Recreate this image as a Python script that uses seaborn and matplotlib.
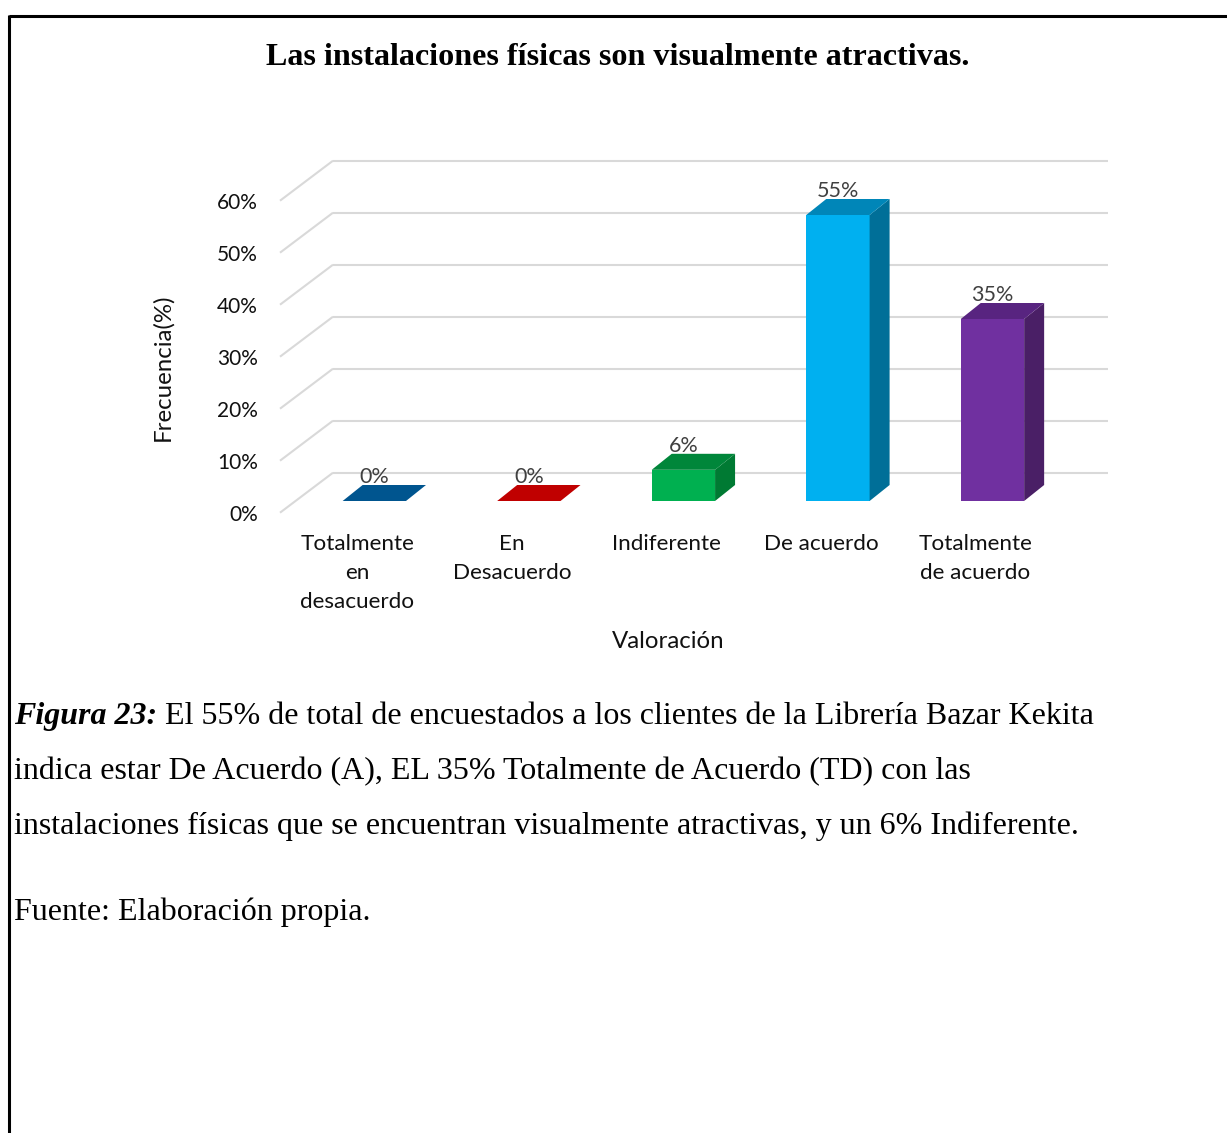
import numpy as np
import pandas as pd
import seaborn as sns
import matplotlib
matplotlib.use("Agg")
import matplotlib.pyplot as plt
from matplotlib.patches import Polygon
from matplotlib.lines import Line2D

# ---- data ----
categorias = ["Totalmente en desacuerdo", "En Desacuerdo", "Indiferente",
              "De acuerdo", "Totalmente de acuerdo"]
etiquetas_x = ["Totalmente\nen\ndesacuerdo", "En\nDesacuerdo", "Indiferente",
               "De acuerdo", "Totalmente\nde acuerdo"]
porcentajes = [0, 0, 6, 55, 35]
ticks_y = [0, 10, 20, 30, 40, 50, 60]

color_frente = ["#00558F", "#C00000", "#00B050", "#00B0F0", "#7030A0"]
color_lado = ["#003F6B", "#8F0000", "#007A33", "#006F98", "#4A1F66"]
color_techo = ["#00558F", "#C00000", "#00863A", "#0086B8", "#582480"]

titulo = "Las instalaciones físicas son visualmente atractivas."
texto_figura = "Figura 23:"
texto_lineas = [
    " El 55% de total de encuestados a los clientes de la Librería Bazar Kekita",
    "indica estar De Acuerdo (A), EL 35% Totalmente de Acuerdo (TD) con las",
    "instalaciones físicas que se encuentran visualmente atractivas, y un 6% Indiferente.",
]
texto_fuente = "Fuente: Elaboración propia."

# ---- figure ----
sns.set_theme(style="white")
plt.rcParams["font.family"] = ["Lato", "DejaVu Sans"]

W, H = 1227, 1133
fig = plt.figure(figsize=(W / 100, H / 100), dpi=100)
fig.patch.set_facecolor("white")

# plot plane = plane of the bar front faces (pixel geometry)
PX_L, PX_R, PX_T, PX_B = 295.5, 1070.5, 189.0, 501.0
XLIM = (-0.51, 4.505)
YLIM = (0, 60)
ax = fig.add_axes([PX_L / W, (H - PX_B) / H, (PX_R - PX_L) / W, (PX_B - PX_T) / H])

df = pd.DataFrame({"cat": categorias, "pct": porcentajes})
sns.barplot(data=df, x="cat", y="pct", hue="cat", palette=color_frente,
            legend=False, width=0.41, saturation=1, linewidth=0, ax=ax, zorder=2)
ax.set_xlim(*XLIM)
ax.set_ylim(*YLIM)
ax.axis("off")

sx = (XLIM[1] - XLIM[0]) / (PX_R - PX_L)   # data units per pixel (x)
sy = (YLIM[1] - YLIM[0]) / (PX_B - PX_T)   # data units per pixel (y)

# perspective offsets (pixels)
back_dx, back_dy = 37.5, 28.3     # back wall relative to bar plane
front_dx, front_dy = -15.5, -11.7  # front edge of floor relative to bar plane
bar_dx, bar_dy = 20.0, 16.0       # bar depth

txt_col = "#111111"
grid_col = "#D9D9D9"
for v in ticks_y:
    x_front = XLIM[0] + front_dx * sx
    y_front = v + front_dy * sy
    x_back = XLIM[0] + back_dx * sx
    y_back = v + back_dy * sy
    ax.plot([x_front, x_back], [y_front, y_back], color=grid_col, lw=1.5,
            clip_on=False, zorder=0, solid_capstyle="butt")
    ax.plot([x_back, XLIM[1] + back_dx * sx], [y_back, y_back], color=grid_col,
            lw=1.5, clip_on=False, zorder=0, solid_capstyle="butt")
    ax.text(XLIM[0] + (258 - PX_L) * sx, y_front - 2 * sy, f"{v}%", ha="right",
            va="center", fontsize=15, color=txt_col, clip_on=False)

# 3D side and top faces built from the seaborn bars
ddx, ddy = bar_dx * sx, bar_dy * sy
for i, p in enumerate(ax.patches):
    x0, w, h = p.get_x(), p.get_width(), p.get_height()
    if h > 0:
        side = Polygon([(x0 + w, 0), (x0 + w + ddx, ddy), (x0 + w + ddx, h + ddy),
                        (x0 + w, h)], closed=True, facecolor=color_lado[i],
                       edgecolor="none", clip_on=False, zorder=2)
        ax.add_patch(side)
    top = Polygon([(x0, h), (x0 + w, h), (x0 + w + ddx, h + ddy), (x0 + ddx, h + ddy)],
                  closed=True, facecolor=color_techo[i], edgecolor="none",
                  clip_on=False, zorder=2)
    ax.add_patch(top)
    ax.text(x0 + w / 2, h + ddy + 8 * sy, f"{porcentajes[i]}%",
            ha="center", va="center", fontsize=15.5, color="#404040", clip_on=False)

# category labels on the front edge of the floor
for i, lab in enumerate(etiquetas_x):
    ax.text(i - 17 * sx, (PX_B - 534) * sy, lab, ha="center", va="top",
            fontsize=16.2, color=txt_col, linespacing=1.57, clip_on=False)

def fx(px):
    return px / W

def fy(py):
    return 1 - py / H

fig.text(fx(163), fy(367), "Frecuencia(%)", rotation=90, ha="center",
         va="center", fontsize=17.3, color=txt_col)
fig.text(fx(668), fy(641), "Valoración", ha="center", va="center",
         fontsize=17.3, color=txt_col)

serif = ["Liberation Serif", "DejaVu Serif"]
fig.text(fx(618), fy(57.5), titulo, ha="center", va="center", fontsize=23.1,
         fontweight="bold", family=serif, color="black")

# caption paragraph
fs_cap = 23.0
fig.canvas.draw()
renderer = fig.canvas.get_renderer()
t0 = fig.text(fx(14), fy(724), texto_figura, ha="left", va="baseline",
              fontsize=fs_cap, fontweight="bold", fontstyle="italic",
              family=serif, color="black")
w0 = t0.get_window_extent(renderer).width
fig.text(fx(14 + w0), fy(724), texto_lineas[0], ha="left", va="baseline",
         fontsize=fs_cap, family=serif, color="black")
fig.text(fx(14), fy(779), texto_lineas[1], ha="left", va="baseline",
         fontsize=fs_cap, family=serif, color="black")
fig.text(fx(14), fy(834), texto_lineas[2], ha="left", va="baseline",
         fontsize=fs_cap, family=serif, color="black")
fig.text(fx(14), fy(920), texto_fuente, ha="left", va="baseline",
         fontsize=fs_cap, family=serif, color="black")

# page frame (top and left rules)
fig.add_artist(Line2D([fx(9), 1.0], [fy(16), fy(16)], color="black", lw=2.2,
                      transform=fig.transFigure, solid_capstyle="butt"))
fig.add_artist(Line2D([fx(9), fx(9)], [fy(15), 0.0], color="black", lw=2.2,
                      transform=fig.transFigure, solid_capstyle="butt"))

fig.savefig("out.png", dpi=100, facecolor="white")
